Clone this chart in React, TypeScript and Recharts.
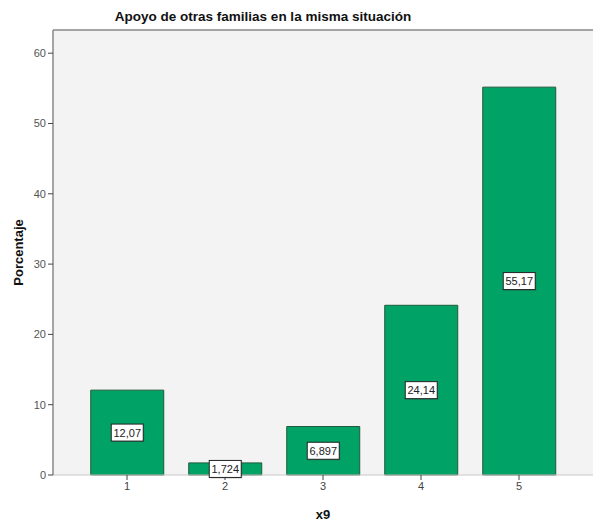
import { BarChart, Bar, XAxis, YAxis, CartesianGrid, ReferenceLine, LabelList } from 'recharts';

const categories = ['1', '2', '3', '4', '5'];
const percentages = [12.07, 1.724, 6.897, 24.14, 55.17];
const percentLabels = ['12,07', '1,724', '6,897', '24,14', '55,17'];
const yTicks = [0, 10, 20, 30, 40, 50, 60];

const chartData = categories.map((cat, i) => ({
  cat,
  value: percentages[i],
  label: percentLabels[i],
}));

const Y_MAX = 63.3;
const FONT = '"Liberation Sans Narrow", "Liberation Sans", Arial, sans-serif';

// white value box centred on each bar
function BoxLabel(props: any) {
  const { x, y, width, height, index } = props;
  const text = percentLabels[index];
  const cx = Number(x) + Number(width) / 2;
  const cy = Number(y) + Number(height) / 2;
  const w = text.length * 5.6 + 4;
  const h = 17;
  return (
    <g>
      <rect x={cx - w / 2 + 1} y={cy - h / 2 + 1} width={w} height={h} fill="#3a3a3a" opacity={0.35} />
      <rect x={cx - w / 2} y={cy - h / 2} width={w} height={h} fill="#ffffff" stroke="#222" strokeWidth={1} />
      <text x={cx} y={cy} textAnchor="middle" dominantBaseline="central" fontSize={11} fontFamily={FONT} fill="#222">
        {text}
      </text>
    </g>
  );
}

export default function App() {
  return (
    <div style={{ position: 'absolute', left: 0, top: 0, width: 594, height: 522, background: '#fff' }}>
      <div
        style={{
          position: 'absolute',
          left: 0,
          width: 526,
          top: 9,
          textAlign: 'center',
          fontFamily: 'Liberation Sans, Arial, sans-serif',
          fontWeight: 'bold',
          fontSize: 13.5,
          color: '#111',
        }}
      >
        Apoyo de otras familias en la misma situación
      </div>
      <BarChart
        width={594}
        height={522}
        data={chartData}
        margin={{ top: 30, right: 1, left: 0, bottom: 0 }}
        barCategoryGap="13%"
        style={{ position: 'absolute', left: 0, top: 0 }}
      >
        <CartesianGrid horizontal={false} vertical={false} fill="#f3f3f3" />
        <XAxis
          dataKey="cat"
          height={47}
          padding={{ left: 25, right: 25 }}
          axisLine={{ stroke: '#c8c8c8' }}
          tickLine={{ stroke: '#444' }}
          tickSize={5}
          tick={{ fontSize: 11, fill: '#444', fontFamily: FONT }}
          label={{ value: 'x9', position: 'insideBottom', offset: 3, fontSize: 13, fontWeight: 'bold', fill: '#111', fontFamily: 'Liberation Sans, Arial, sans-serif' }}
        />
        <YAxis
          width={53}
          domain={[0, Y_MAX]}
          ticks={yTicks}
          axisLine={{ stroke: '#888', strokeWidth: 1.5 }}
          tickLine={{ stroke: '#444' }}
          tickSize={5}
          tick={{ fontSize: 11, fill: '#555', fontFamily: FONT }}
          label={{
            value: 'Porcentaje',
            angle: -90,
            position: 'insideLeft',
            offset: 18,
            style: { textAnchor: 'middle' },
            fontSize: 13,
            fontWeight: 'bold',
            fill: '#111',
            fontFamily: 'Liberation Sans, Arial, sans-serif',
          }}
        />
        <ReferenceLine y={Y_MAX} stroke="#888" strokeWidth={1.5} />
        <Bar dataKey="value" fill="#00a365" stroke="#1f5a3c" strokeWidth={1} isAnimationActive={false}>
          <LabelList dataKey="label" content={BoxLabel} />
        </Bar>
      </BarChart>
    </div>
  );
}
